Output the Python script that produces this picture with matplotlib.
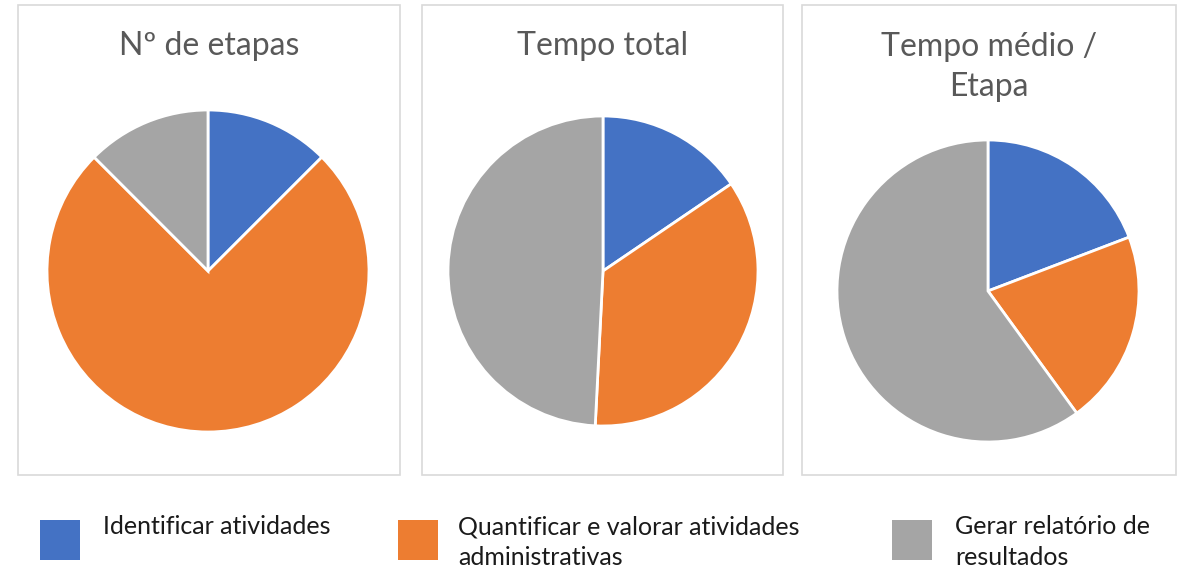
import matplotlib.pyplot as plt
from matplotlib.patches import Rectangle

plt.rcParams['font.family'] = ['Lato', 'DejaVu Sans']

categories = ["Identificar atividades",
              "Quantificar e valorar atividades\nadministrativas",
              "Gerar relatório de\nresultados"]
colors = ["#4472C4", "#ED7D31", "#A5A5A5"]

titles = ["Nº de etapas", "Tempo total", "Tempo médio /\nEtapa"]
n_etapas = [12.5, 75.0, 12.5]
tempo_total = [15.5, 35.3, 49.2]
tempo_medio = [19.2, 20.8, 60.0]
series = [n_etapas, tempo_total, tempo_medio]

W, H = 1189, 573
fig = plt.figure(figsize=(W / 100, H / 100), dpi=100)

# boxes (left, right) in px, pie center/radius in px
boxes = [(18, 400), (422, 783), (802, 1176)]
centers = [(208, 271, 161), (603, 271, 155), (988, 291, 151)]
title_y = [46, 46, 67]

for i in range(3):
    x0, x1 = boxes[i]
    fig.patches.append(Rectangle((x0 / W, 1 - 475 / H), (x1 - x0) / W, (475 - 5) / H,
                                 transform=fig.transFigure, fill=False,
                                 edgecolor="#D9D9D9", linewidth=1.2))
    cx, cy, r = centers[i]
    ax = fig.add_axes([(cx - r) / W, 1 - (cy + r) / H, 2 * r / W, 2 * r / H])
    ax.pie(series[i], colors=colors, startangle=90, counterclock=False,
           radius=1, wedgeprops=dict(edgecolor="white", linewidth=2))
    ax.set_xlim(-1, 1)
    ax.set_ylim(-1, 1)
    ax.axis("off")
    fig.text((x0 + x1) / 2 / W, 1 - title_y[i] / H, titles[i], ha="center", va="center",
             fontsize=23, color="#595959", linespacing=1.4)

# legend
leg_sq = [40, 398, 892]
leg_tx = [103, 458, 955]
for i in range(3):
    fig.patches.append(Rectangle((leg_sq[i] / W, 1 - 560 / H), 40 / W, 40 / H,
                                 transform=fig.transFigure, facecolor=colors[i],
                                 edgecolor="none"))
    fig.text(leg_tx[i] / W, 1 - 515 / H, categories[i], ha="left", va="top",
             fontsize=18, color="#1a1a1a", linespacing=1.4)

fig.savefig("out.png", dpi=100, facecolor="white")
